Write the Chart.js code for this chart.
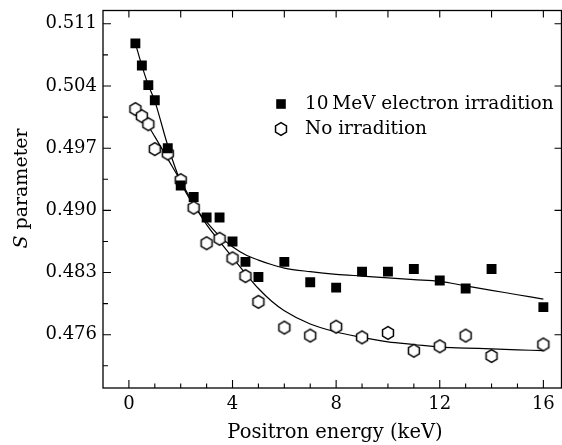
<!DOCTYPE html>
<html><head><meta charset="utf-8">
<script src="https://cdn.jsdelivr.net/npm/chart.js@4.4.0/dist/chart.umd.min.js"></script>
<style>html,body{margin:0;padding:0;background:#fff;}canvas{display:block;}</style>
</head><body>
<canvas id="c" width="562" height="445"></canvas>
<script>
// ---- data ----
const energyIrr = [0.25,0.5,0.75,1,1.5,2,2.5,3,3.5,4,4.5,5,6,7,8,9,10,11,12,13,14,16];
const sIrr = [0.5088,0.5063,0.5041,0.5024,0.4970,0.4928,0.4915,0.4892,0.4892,0.4865,0.4842,0.4825,0.4842,0.4819,0.4813,0.4831,0.4831,0.4834,0.4821,0.4812,0.4834,0.4791];
const energyNo = [0.25,0.5,0.75,1,1.5,2,2.5,3,3.5,4,4.5,5,6,7,8,9,10,11,12,13,14,16];
const sNo = [0.5014,0.5006,0.4997,0.4969,0.4964,0.4934,0.4903,0.4863,0.4868,0.4846,0.4826,0.4797,0.4768,0.4759,0.4769,0.4757,0.4762,0.4742,0.4747,0.4759,0.4736,0.4749];
const fitEnergy = [0.25,0.5,0.75,1,1.5,2,2.5,3,3.5,4,4.5,5,5.5,6,7,8,9,10,11,12,13,14,15,16];
const fitIrr = [0.5088,0.5063,0.5041,0.5023,0.4973,0.4932,0.4906,0.4887,0.4871,0.4859,0.4850,0.4844,0.4839,0.4835,0.4831,0.4828,0.4826,0.4824,0.4822,0.4820,0.4815,0.4810,0.4805,0.4800];
const fitNo = [0.5014,0.5005,0.4995,0.4983,0.4958,0.4933,0.4907,0.4884,0.4865,0.4847,0.4829,0.4812,0.4798,0.4787,0.4772,0.4763,0.4757,0.4752,0.4749,0.4746,0.4745,0.4744,0.4743,0.4742];
const xTickLabels = [0,4,8,12,16];
const yTickLabels = [0.476,0.483,0.490,0.497,0.504,0.511];
const seriesNames = ['10\u2009MeV electron irradition','No irradition'];

const FONT = "'DejaVu Serif', serif";

function makeHex(r){
  const s = Math.ceil(r*2+5);
  const c = document.createElement('canvas'); c.width = s; c.height = s;
  const g = c.getContext('2d');
  g.beginPath();
  for (let i=0;i<6;i++){
    const a = Math.PI/2 + i*Math.PI/3;
    const x = s/2 + r*Math.cos(a), y = s/2 + r*Math.sin(a);
    i ? g.lineTo(x,y) : g.moveTo(x,y);
  }
  g.closePath(); g.fillStyle='#fff'; g.fill();
  g.lineWidth = 1.5; g.strokeStyle = '#000'; g.stroke();
  return c;
}
const hexImg = makeHex(6.3);

const pts = (xs, ys) => xs.map((x,i)=>({x, y: ys[i]}));

const framePlugin = {
  id: 'frame',
  beforeDatasetsDraw(chart){
    const {ctx, chartArea:a, scales:{x, y}} = chart;
    ctx.save();
    ctx.strokeStyle = '#000'; ctx.lineWidth = 1.3;
    ctx.strokeRect(a.left, a.top, a.right - a.left, a.bottom - a.top);
    ctx.lineWidth = 1.1;
    ctx.beginPath();
    for (let k=0;k<=16;k++){
      const px = x.getPixelForValue(k);
      const len = (k % 4 === 0) ? 8 : 4.5;
      ctx.moveTo(px, a.bottom); ctx.lineTo(px, a.bottom - len);
      if (k % 2 === 0){ ctx.moveTo(px, a.top); ctx.lineTo(px, a.top + 7); }
    }
    for (let k=0;k<12;k++){
      const v = 0.4725 + k*0.0035;
      const py = y.getPixelForValue(v);
      const major = (k % 2 === 1);
      ctx.moveTo(a.left, py); ctx.lineTo(a.left + (major ? 8 : 5), py);
      if (major){ ctx.moveTo(a.right, py); ctx.lineTo(a.right - 7, py); }
    }
    ctx.stroke();
    ctx.restore();
  },
  afterDraw(chart){
    const {ctx} = chart;
    ctx.save();
    ctx.fillStyle = '#000';
    ctx.font = "19.5px " + FONT;
    ctx.textAlign = 'center'; ctx.textBaseline = 'alphabetic';
    ctx.fillText('Positron energy (keV)', 335, 438);
    // y title
    ctx.translate(27, 188.5);
    ctx.rotate(-Math.PI/2);
    ctx.font = "italic 19px " + FONT;
    const wS = ctx.measureText('S').width;
    ctx.font = "19px " + FONT;
    const wR = ctx.measureText(' parameter').width;
    const start = -(wS + wR)/2;
    ctx.textAlign = 'left';
    ctx.font = "italic 19px " + FONT;
    ctx.fillText('S', start, 0);
    ctx.font = "19px " + FONT;
    ctx.fillText(' parameter', start + wS, 0);
    ctx.restore();
    // legend
    ctx.save();
    ctx.fillStyle = '#000';
    ctx.fillRect(281 - 4.8, 104 - 4.8, 9.6, 9.6);
    ctx.drawImage(hexImg, Math.round(281 - hexImg.width/2), Math.round(129 - hexImg.height/2));
    ctx.font = "18.5px " + FONT;
    ctx.textAlign = 'left'; ctx.textBaseline = 'middle';
    ctx.fillText(seriesNames[0], 305, 104);
    ctx.fillText(seriesNames[1], 305, 129);
    ctx.restore();
  }
};

new Chart(document.getElementById('c'), {
  type: 'scatter',
  data: {
    datasets: [
      { label: seriesNames[0], data: pts(energyIrr, sIrr), pointStyle: 'rect', pointRadius: 7,
        backgroundColor: '#000', borderColor: '#000', borderWidth: 0, showLine: false },
      { label: seriesNames[1], data: pts(energyNo, sNo), pointStyle: hexImg, pointRadius: 7,
        showLine: false },
      { label: 'fit1', data: pts(fitEnergy, fitIrr), showLine: true, pointRadius: 0,
        borderColor: '#000', borderWidth: 1.2, cubicInterpolationMode: 'monotone', fill: false },
      { label: 'fit2', data: pts(fitEnergy, fitNo), showLine: true, pointRadius: 0,
        borderColor: '#000', borderWidth: 1.2, cubicInterpolationMode: 'monotone', fill: false }
    ]
  },
  options: {
    responsive: false, animation: false, devicePixelRatio: 1,
    layout: { autoPadding: false, padding: { top: 10.5, right: 0.5, left: 0, bottom: 0 } },
    plugins: { legend: { display: false }, tooltip: { enabled: false } },
    scales: {
      x: {
        type: 'linear', min: -1, max: 16.7,
        grid: { display: false, drawTicks: false }, border: { display: false },
        afterBuildTicks: s => { s.ticks = xTickLabels.map(v => ({ value: v })); },
        afterFit: s => { s.height = 57; s.paddingLeft = 0; s.paddingRight = 0; },
        ticks: { color: '#000', font: { family: FONT, size: 18 }, padding: 6, maxRotation: 0,
                 callback: v => String(v) }
      },
      y: {
        type: 'linear', min: 0.470, max: 0.5125,
        grid: { display: false, drawTicks: false }, border: { display: false },
        afterBuildTicks: s => { s.ticks = yTickLabels.map(v => ({ value: v })); },
        afterFit: s => { s.width = 103; s.paddingTop = 0; s.paddingBottom = 0; },
        ticks: { color: '#000', font: { family: FONT, size: 18 }, padding: 6,
                 callback: v => Number(v).toFixed(3) }
      }
    }
  },
  plugins: [framePlugin]
});
</script>
</body></html>
